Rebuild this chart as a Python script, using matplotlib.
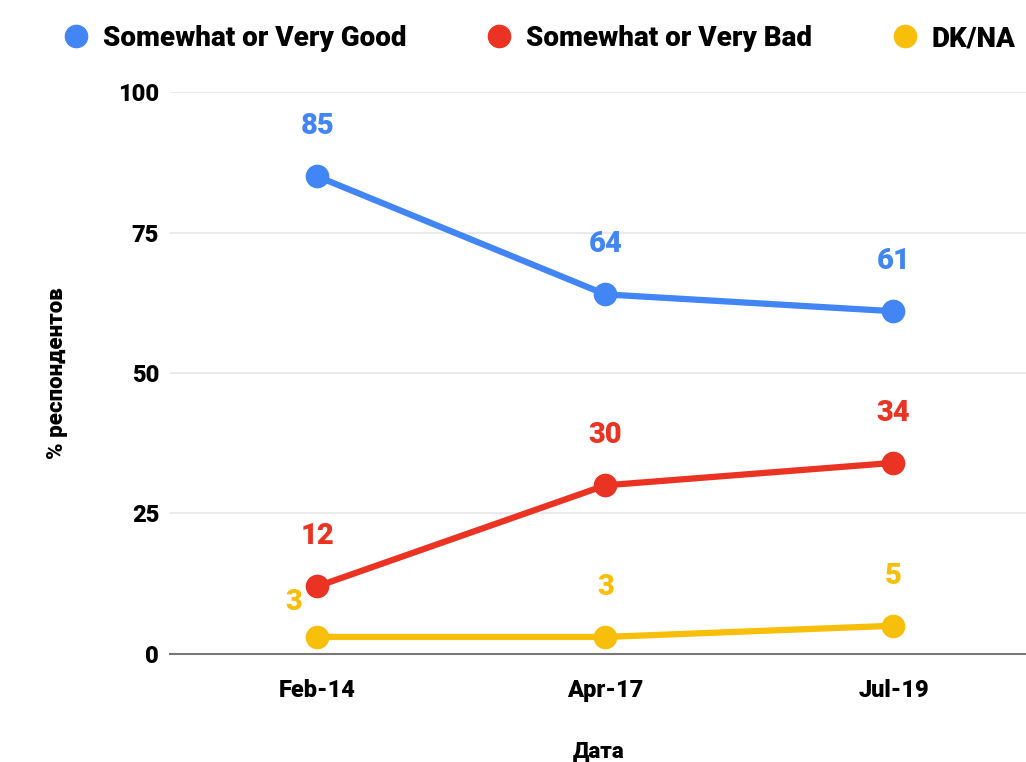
import numpy as np
import matplotlib.pyplot as plt

plt.rcParams['font.family'] = ['Roboto', 'DejaVu Sans']
plt.rcParams['font.weight'] = 'black'

# Datos
dates = ['Feb-14', 'Apr-17', 'Jul-19']
good = [85, 64, 61]
bad = [12, 30, 34]
dkna = [3, 3, 5]

series = [
    ('Somewhat or Very Good', good, '#4285F4'),
    ('Somewhat or Very Bad', bad, '#EA3323'),
    ('DK/NA', dkna, '#F7BE0A'),
]

fig = plt.figure(figsize=(10.26, 7.62), dpi=100)
ax = fig.add_axes([0.166, 0.142, 0.834, 0.737])

x = np.arange(len(dates))
for name, vals, col in series:
    ax.plot(x, vals, color=col, lw=4.5, marker='o', ms=16, label=name,
            solid_capstyle='round', zorder=3)
    for i, v in enumerate(vals):
        if name == 'DK/NA' and i == 0:
            ax.annotate(str(v), (x[i], v), xytext=(-17, 15), textcoords='offset points',
                        ha='center', va='bottom', color=col, fontsize=21, fontweight='black')
        else:
            ax.annotate(str(v), (x[i], v), xytext=(0, 26), textcoords='offset points',
                        ha='center', va='bottom', color=col, fontsize=21, fontweight='black')

ax.set_xlim(-0.51, 2.46)
ax.set_ylim(0, 100)
ax.set_yticks([0, 25, 50, 75, 100])
ax.set_xticks(x)
ax.set_xticklabels(dates)
ax.tick_params(axis='both', length=0, labelsize=17)
ax.tick_params(axis='x', pad=18)
ax.tick_params(axis='y', pad=8)
ax.grid(axis='y', color='#e6e6e6', lw=1.2)
ax.set_axisbelow(True)
for s in ['top', 'right', 'left']:
    ax.spines[s].set_visible(False)
ax.spines['bottom'].set_color('#777777')
ax.spines['bottom'].set_linewidth(1.5)

ax.set_xlabel('Дата', fontsize=16, fontweight='black', labelpad=28)
ax.set_ylabel('% респондентов', fontsize=16, fontweight='black', labelpad=36)

fig.legend(loc='upper center', bbox_to_anchor=(0.527, 1.0), ncol=3, frameon=False,
           fontsize=20, handlelength=0.7, handletextpad=0.6, columnspacing=3.0,
           markerscale=1.0)
leg = fig.legends[0]
for h in leg.legend_handles:
    h.set_linestyle('none')

fig.savefig('out.png', dpi=100)
